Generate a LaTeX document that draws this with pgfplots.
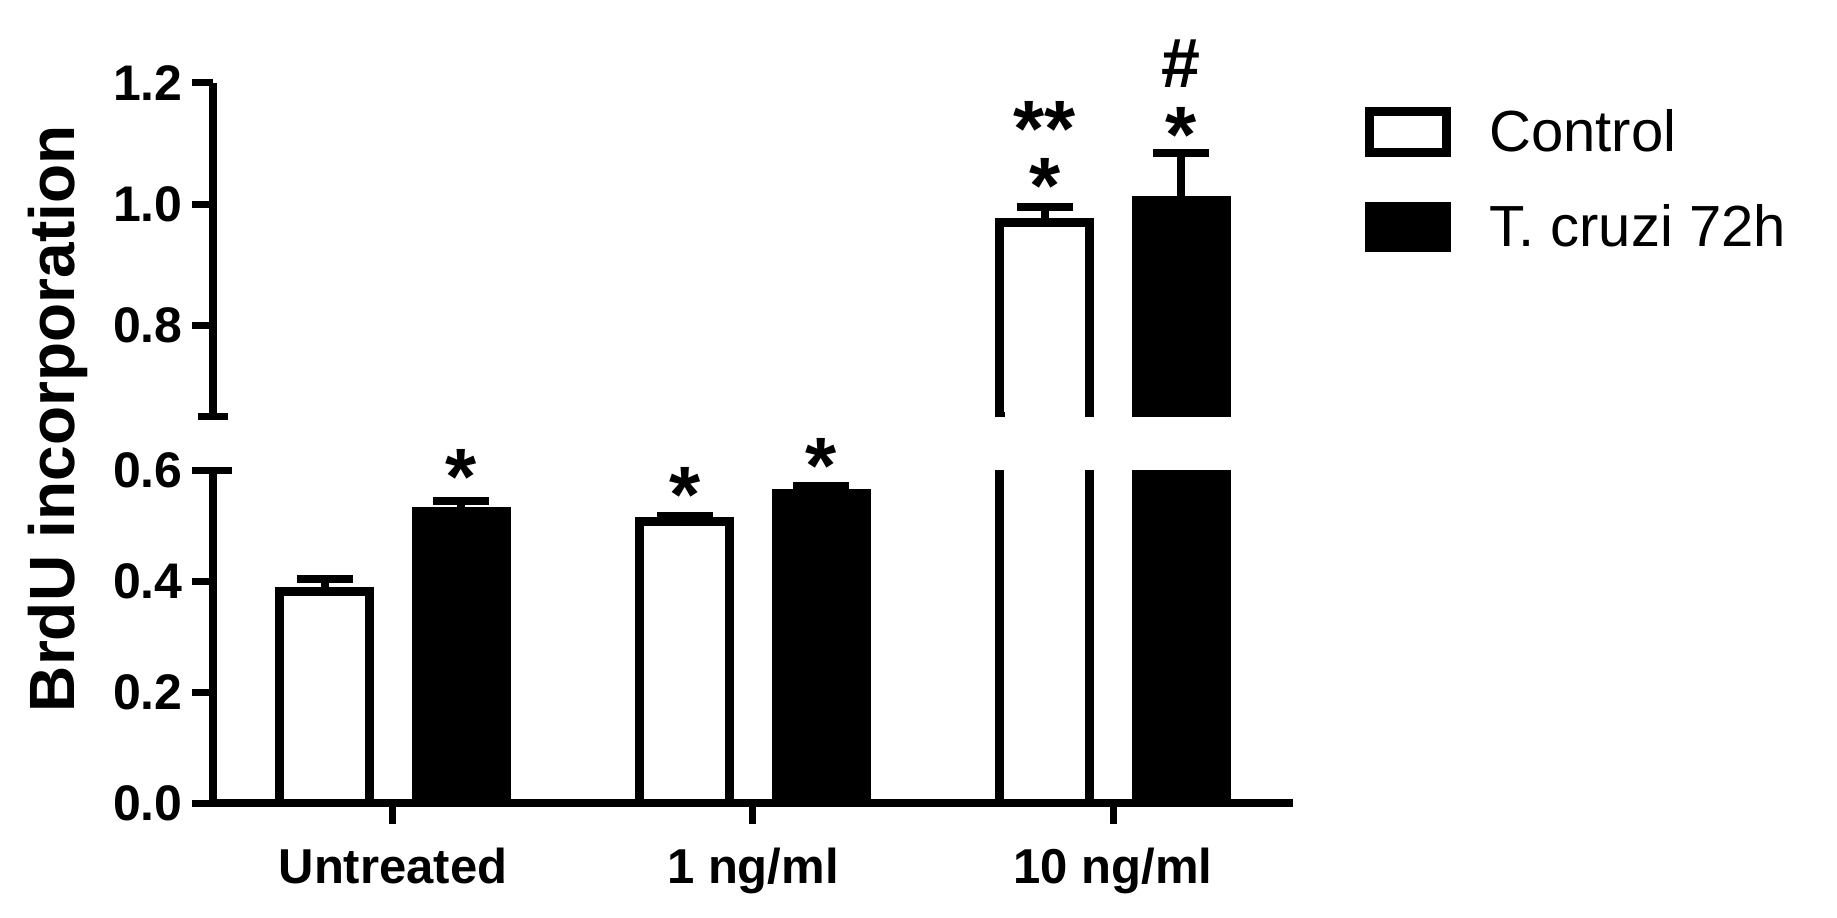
\documentclass[border=0pt]{standalone}
\usepackage{fontspec}
\setmainfont{Liberation Sans}
\usepackage{pgfplots}
\pgfplotsset{compat=1.18}
\tikzset{starlbl/.style={font=\fontsize{40}{48}\selectfont\bfseries, inner sep=0pt, yshift=-6.5pt}}
\pgfplotsset{boxlegend/.style={legend image code/.code={\draw[##1] (0pt,-10.25pt) rectangle (38.5pt,10.25pt);}}}
\begin{document}
\begin{tikzpicture}
\path[use as bounding box] (-106.5pt,-57pt) rectangle (812pt,401.5pt);
\pgfplotsset{
  common/.style={
    scale only axis, width=540pt, xmin=-0.5, xmax=2.5,
    axis line style={line width=4pt},
    tick style={line width=3.5pt, black},
    major tick length=10.5pt, tick align=outside,
    clip mode=individual,
    yticklabel style={font=\fontsize{25}{30}\selectfont\bfseries, inner xsep=4.5pt},
  },
  bars/.style={ybar, bar width=0.25, bar shift=0pt, draw=black, line width=4.5pt, forget plot,
    error bars/y dir=plus, error bars/y explicit,
    error bars/error mark=|,
    error bars/error bar style={line width=4pt},
    error bars/error mark options={line width=4pt, mark size=14pt}},
}
\begin{axis}[common, height=166.15pt, ymin=0, ymax=0.6,
  axis x line*=bottom, axis y line*=left,
  ytick={0,0.2,0.4,0.6}, yticklabels={0.0,0.2,0.4,0.6},
  extra y ticks={0.6}, extra y tick labels={},
  extra y tick style={tick align=center, /pgfplots/major tick length=19pt},
  xtick={0,1,2}, xticklabels={Untreated,1 ng/ml,10 ng/ml},
  xticklabel style={font=\fontsize{24.5}{29}\selectfont\bfseries, inner ysep=12pt},
  ylabel={BrdU incorporation},
  every axis y label/.style={at={(axis description cs:-0.1435,1.156)}, rotate=90, anchor=center, font=\fontsize{32}{38}\selectfont\bfseries},
]
\addplot[bars, fill=white] coordinates {(-0.189,0.381) +- (0,0.023) (0.811,0.509) +- (0,0.009) (1.811,0.969) +- (0,0.026)};
\addplot[bars, fill=black] coordinates {(0.189,0.527) +- (0,0.019) (1.189,0.559) +- (0,0.014) (2.189,1.006) +- (0,0.079)};
\node[starlbl] at (axis cs:0.189,0.612) {*};
\node[starlbl] at (axis cs:0.811,0.58) {*};
\node[starlbl] at (axis cs:1.189,0.632) {*};
\end{axis}
\begin{axis}[common, at={(0pt,193pt)}, anchor=south west, height=167pt, ymin=0.648, ymax=1.2,
  axis x line=none, axis y line*=left,
  ytick={0.8,1.0,1.2}, yticklabels={0.8,1.0,1.2},
  extra y ticks={0.648}, extra y tick labels={},
  extra y tick style={tick align=center, /pgfplots/major tick length=15pt},
  legend style={draw=none, fill=none, at={(1.0667,0.928)}, anchor=north west, inner sep=0pt,
    row sep=22.5pt, column sep=19pt, font=\fontsize{29}{35}\selectfont, nodes={inner sep=0pt}},
  legend cell align=left,
]
\addplot[bars, fill=white] coordinates {(1.811,0.969) +- (0,0.026)};
\addplot[bars, fill=black] coordinates {(2.189,1.006) +- (0,0.079)};
\fill[white] ([xshift=2.3pt]axis cs:1.686,0.648) rectangle ([xshift=-2.3pt,yshift=2.7pt]axis cs:1.936,0.648);
\addlegendimage{boxlegend, draw=black, fill=white, line width=4.5pt}
\addlegendentry{Control}
\addlegendimage{boxlegend, draw=black, fill=black, line width=4.5pt}
\addlegendentry{T. cruzi 72h}
\node[starlbl] at (axis cs:1.811,1.052) {*};
\node[starlbl] at (axis cs:1.811,1.145) {**};
\node[starlbl] at (axis cs:2.189,1.135) {*};
\node[font=\fontsize{35}{40}\selectfont\bfseries, inner sep=0pt] at (axis cs:2.189,1.232) {\#};
\end{axis}
\end{tikzpicture}
\end{document}
